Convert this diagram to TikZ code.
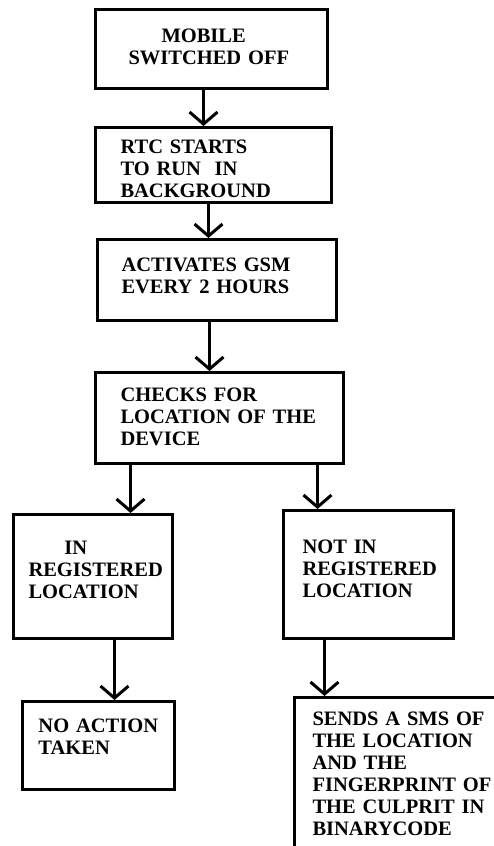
\documentclass[tikz,border=0pt]{standalone}
\usepackage{fontspec}
\setmainfont{Liberation Serif}
\usetikzlibrary{arrows.meta}
\tikzset{
  box/.style={draw, line width=3pt, anchor=north west, inner sep=0pt,
    align=left, font=\fontsize{20.5}{22}\selectfont\bfseries},
  indent/.style={execute at begin node={\leftskip=#1}},
  arr/.style={line width=3pt, -{Straight Barb[length=12pt,width=28pt]}}
}
\begin{document}
\begin{tikzpicture}[x=1pt,y=-1pt]
    \useasboundingbox (0,0) rectangle (493,846);
    \node[box, text width=232pt, text height=32.7pt, text depth=46.3pt, indent=33pt]
        (off) at (94,8) {\hspace*{33pt}MOBILE\\SWITCHED OFF};
    \node[box, text width=236pt, text height=26pt, text depth=49pt, indent=25pt]
        (rtc) at (94,126) {RTC STARTS\\TO RUN\ \ IN\\BACKGROUND};
    \node[box, text width=239pt, text height=32pt, text depth=49pt, indent=24pt]
        (gsm) at (96,238) {ACTIVATES GSM\\EVERY 2 HOURS};
    \node[box, text width=248pt, text height=29pt, text depth=62pt, indent=25pt]
        (check) at (94,371) {CHECKS FOR\\LOCATION OF THE\\DEVICE};
    \node[box, text width=159pt, text height=39.7pt, text depth=84.3pt, indent=15pt]
        (inreg) at (12,513) {\hspace*{36pt}IN\\REGISTERED\\LOCATION};
    \node[box, text width=170pt, text height=42.7pt, text depth=85.3pt, indent=19pt]
        (notreg) at (282,509) {NOT IN\\REGISTERED\\LOCATION};
    \node[box, text width=152pt, text height=30.7pt, text depth=57.3pt, indent=16pt]
        (noaction) at (21,700) {NO ACTION\\TAKEN};
    \node[box, text width=215pt, text height=28pt, text depth=200pt, indent=18pt]
        (sms) at (293,696) {SENDS A SMS OF\\THE LOCATION\\AND THE\\FINGERPRINT OF\\THE CULPRIT IN\\BINARYCODE};

    \draw[arr] ([xshift=-8pt]off.south) -- ([xshift=-8pt]off.south |- rtc.north);
    \draw[arr] ([xshift=-5pt]rtc.south) -- ([xshift=-5pt]rtc.south |- gsm.north);
    \draw[arr] ([xshift=-7.5pt]gsm.south) -- ([xshift=-7.5pt]gsm.south |- check.north);
    \draw[arr] ([xshift=-89pt]check.south) -- ([xshift=-89pt]check.south |- inreg.north);
    \draw[arr] ([xshift=98pt]check.south) -- ([xshift=98pt]check.south |- notreg.north);
    \draw[arr] ([xshift=21.5pt]inreg.south) -- ([xshift=21.5pt]inreg.south |- noaction.north);
    \draw[arr] ([xshift=-44pt]notreg.south) -- ([xshift=-44pt]notreg.south |- sms.north);
\end{tikzpicture}
\end{document}
